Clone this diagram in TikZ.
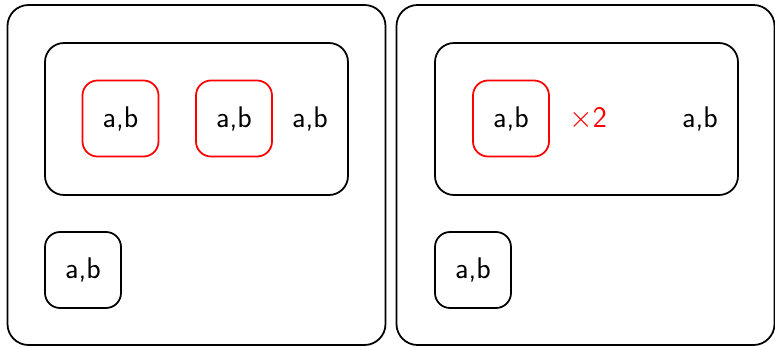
\documentclass[tikz,border=0pt]{standalone}
\usepackage{tikz}

\begin{document}
\begin{tikzpicture}[x=1cm,y=1cm,font=\sffamily\fontsize{17}{20}\selectfont,
 outer/.style={draw,line width=1pt,rounded corners=.42cm,minimum width=7.56cm,minimum height=6.8cm},
 inner/.style={draw,line width=1pt,rounded corners=.38cm,minimum width=6.06cm,minimum height=3.04cm},
 cell/.style={draw,line width=1pt,rounded corners=.3cm,minimum size=1.52cm,inner sep=0pt},
 hot/.style={cell,draw=red}]
\path[use as bounding box] (0,0) rectangle (15.5,6.92);
% two outer frames, each holding one inner frame and one loose cell
\node[outer] (lframe) at (3.93,3.42) {};
\node[outer] (rframe) at (11.71,3.42) {};
\node[inner] (lgroup) at (3.93,4.54) {};
\node[inner] (rgroup) at (11.73,4.54) {};
% left: two red cells and a bare label
\node[hot] (lcellA) at (2.41,4.55) {a,b};
\node[hot] (lcellB) at (4.68,4.55) {a,b};
\node (lrest) at (6.2,4.55) {a,b};
% right: one red cell counted twice
\node[hot] (rcell) at (10.22,4.55) {a,b};
\node[text=red] (rtimes) at (11.76,4.55) {$\times$2};
\node (rrest) at (14.0,4.55) {a,b};
\node[cell] (lloose) at (1.66,1.52) {a,b};
\node[cell] (rloose) at (9.46,1.52) {a,b};
\end{tikzpicture}
\end{document}
